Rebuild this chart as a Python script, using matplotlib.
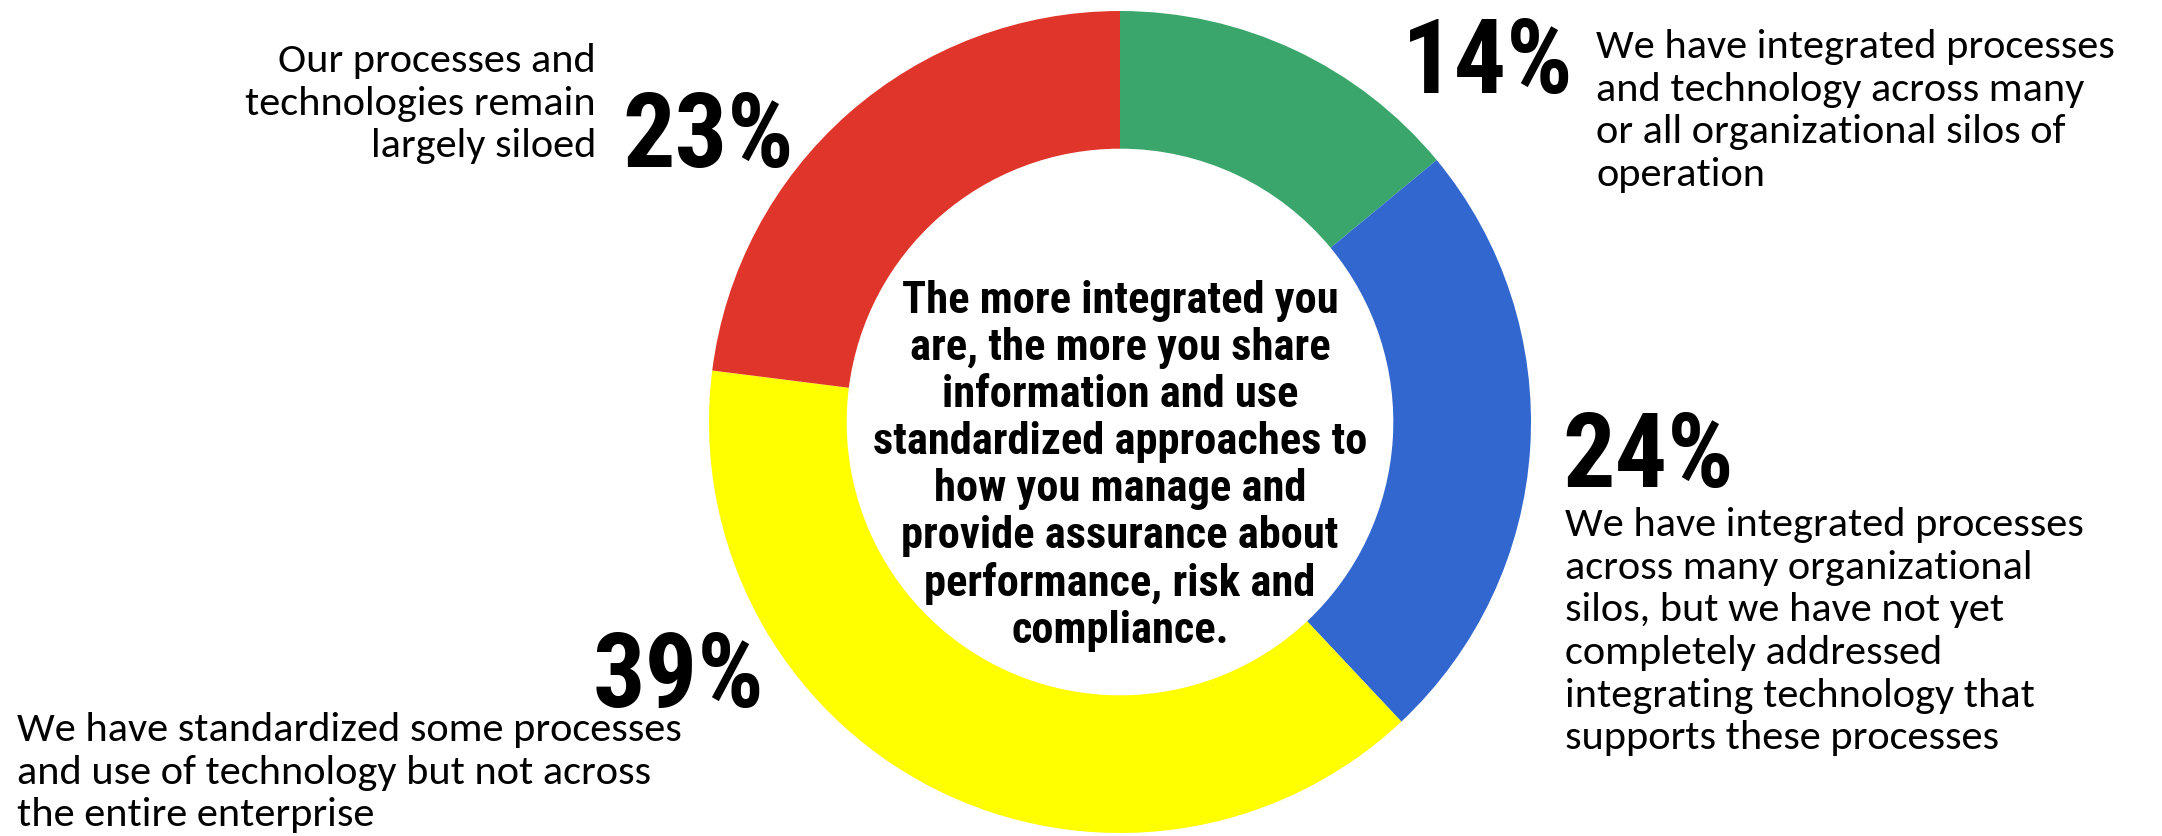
import matplotlib
matplotlib.use("Agg")
import matplotlib.pyplot as plt

W, H = 2162, 836

# data
labels = ["integrated", "integrated processes", "standardized some", "siloed"]
shares = [14, 24, 39, 23]
colors = ["#3aa66b", "#3267cf", "#ffff00", "#e0352a"]

pct_text = ["14%", "24%", "39%", "23%"]
desc_text = [
    "We have integrated processes\nand technology across many\nor all organizational silos of\noperation",
    "We have integrated processes\nacross many organizational\nsilos, but we have not yet\ncompletely addressed\nintegrating technology that\nsupports these processes",
    "We have standardized some processes\nand use of technology but not across\nthe entire enterprise",
    "Our processes and\ntechnologies remain\nlargely siloed",
]
center_text = ("The more integrated you\nare, the more you share\ninformation and use\n"
               "standardized approaches to\nhow you manage and\nprovide assurance about\n"
               "performance, risk and\ncompliance.")

desc_font = ["Carlito", "DejaVu Sans"]
bold_font = ["Roboto Condensed", "DejaVu Sans"]

fig = plt.figure(figsize=(W / 100, H / 100), dpi=100)
ax = fig.add_axes([0, 0, 1, 1])

cx, cy, R = 1120, H - 422, 411
ax.pie(shares, colors=colors, startangle=90, counterclock=False,
       center=(cx, cy), radius=R,
       wedgeprops=dict(width=R * 0.335, linewidth=0))
ax.set_xlim(0, W)
ax.set_ylim(0, H)
ax.axis("off")


def px(x, y):
    return x / W, 1 - y / H


# center text
fig.text(*px(1120, 466), center_text, ha="center", va="center",
         fontsize=32, fontweight="bold", family=bold_font, linespacing=1.15)

# percentages
pct_kw = dict(fontsize=75, fontweight="bold", family=bold_font, va="center")
fig.text(*px(1402, 64), pct_text[0], ha="left", **pct_kw)
fig.text(*px(1562, 458), pct_text[1], ha="left", **pct_kw)
fig.text(*px(764, 678), pct_text[2], ha="right", **pct_kw)
fig.text(*px(622, 138), pct_text[3], ha="left", **pct_kw)

# descriptions
desc_kw = dict(fontsize=30.5, family=desc_font, linespacing=1.23, va="top")
fig.text(*px(1596, 29), desc_text[0], ha="left", **desc_kw)
fig.text(*px(1565, 507), desc_text[1], ha="left", **desc_kw)
fig.text(*px(17, 712), desc_text[2], ha="left", **desc_kw)
fig.text(*px(596, 43), desc_text[3], ha="right", **desc_kw)

fig.savefig("out.png", dpi=100, facecolor="white")
